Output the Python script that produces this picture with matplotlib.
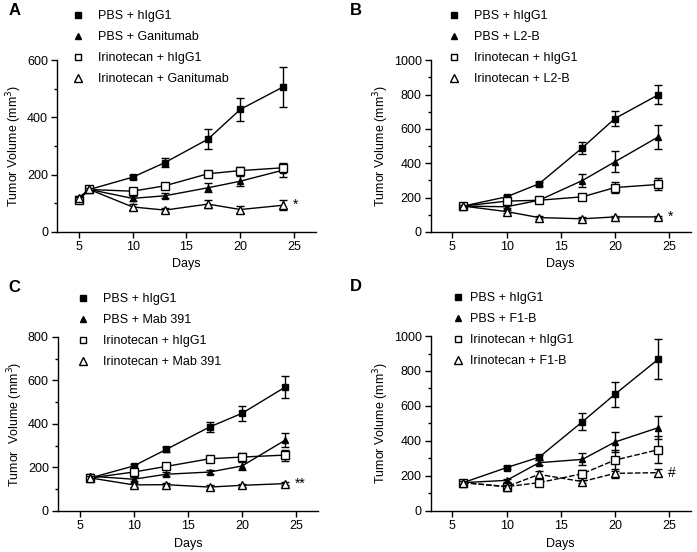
import numpy as np
import matplotlib
matplotlib.use('Agg')
import matplotlib.pyplot as plt
from matplotlib.lines import Line2D
from matplotlib.ticker import MultipleLocator

plt.rcParams['font.family'] = ['Liberation Sans', 'DejaVu Sans']
plt.rcParams['font.size'] = 9

# panel A
days_a = [5, 6, 10, 13, 17, 20, 24]
a_pbs_igg = [113, 148, 191, 242, 324, 428, 507]
a_pbs_igg_err = [5, 5, 8, 15, 35, 40, 70]
a_pbs_drug = [120, 148, 117, 126, 154, 177, 216]
a_pbs_drug_err = [5, 5, 8, 8, 15, 18, 25]
a_iri_igg = [113, 148, 142, 161, 203, 214, 224]
a_iri_igg_err = [5, 5, 8, 8, 10, 12, 12]
a_iri_drug = [118, 148, 87, 76, 97, 78, 93]
a_iri_drug_err = [5, 5, 10, 8, 15, 12, 18]
labels_a = ['PBS + hIgG1', 'PBS + Ganitumab', 'Irinotecan + hIgG1', 'Irinotecan + Ganitumab']

# panel B
days_b = [6, 10, 13, 17, 20, 24]
b_pbs_igg = [150, 204, 280, 490, 660, 798]
b_pbs_igg_err = [8, 10, 12, 35, 45, 55]
b_pbs_drug = [150, 146, 184, 299, 408, 553]
b_pbs_drug_err = [8, 10, 12, 38, 60, 72]
b_iri_igg = [150, 179, 184, 204, 258, 276]
b_iri_igg_err = [8, 10, 10, 15, 30, 35]
b_iri_drug = [150, 118, 83, 76, 87, 87]
b_iri_drug_err = [8, 10, 8, 8, 8, 8]
labels_b = ['PBS + hIgG1', 'PBS + L2-B', 'Irinotecan + hIgG1', 'Irinotecan + L2-B']

# panel C
days_c = [6, 10, 13, 17, 20, 24]
c_pbs_igg = [152, 207, 283, 386, 449, 570]
c_pbs_igg_err = [8, 10, 12, 25, 35, 50]
c_pbs_drug = [160, 146, 169, 179, 207, 326]
c_pbs_drug_err = [8, 10, 10, 10, 20, 32]
c_iri_igg = [152, 179, 205, 240, 248, 257]
c_iri_igg_err = [8, 12, 12, 15, 20, 25]
c_iri_drug = [152, 120, 121, 110, 118, 126]
c_iri_drug_err = [8, 8, 8, 8, 8, 8]
labels_c = ['PBS + hIgG1', 'PBS + Mab 391', 'Irinotecan + hIgG1', 'Irinotecan + Mab 391']

# panel D
days_d = [6, 10, 13, 17, 20, 24]
d_pbs_igg = [162, 248, 307, 510, 667, 867]
d_pbs_igg_err = [8, 10, 15, 50, 70, 115]
d_pbs_drug = [162, 175, 276, 295, 394, 476]
d_pbs_drug_err = [8, 10, 15, 35, 55, 65]
d_iri_igg = [162, 139, 162, 213, 291, 350]
d_iri_igg_err = [8, 8, 10, 20, 60, 78]
d_iri_drug = [162, 139, 209, 168, 215, 219]
d_iri_drug_err = [8, 8, 20, 10, 25, 20]
labels_d = ['PBS + hIgG1', 'PBS + F1-B', 'Irinotecan + hIgG1', 'Irinotecan + F1-B']

styles = [
    dict(marker='s', mfc='black', ms=5),
    dict(marker='^', mfc='black', ms=5),
    dict(marker='s', mfc='white', ms=5.8),
    dict(marker='^', mfc='white', ms=6.3),
]

fig = plt.figure(figsize=(6.97, 5.52), dpi=100)

# letter, axes rect, days, series, labels, ymax, mark, dashed, legend anchor, textpad, ylabel
panels = [
    ('A', [0.082, 0.58, 0.371, 0.311], days_a,
     [(a_pbs_igg, a_pbs_igg_err), (a_pbs_drug, a_pbs_drug_err),
      (a_iri_igg, a_iri_igg_err), (a_iri_drug, a_iri_drug_err)],
     labels_a, 600, '*', False, (0.103, 0.982), 1.1, 'Tumor Volume (mm$^3$)'),
    ('B', [0.618, 0.58, 0.373, 0.311], days_b,
     [(b_pbs_igg, b_pbs_igg_err), (b_pbs_drug, b_pbs_drug_err),
      (b_iri_igg, b_iri_igg_err), (b_iri_drug, b_iri_drug_err)],
     labels_b, 1000, '*', False, (0.6424, 0.982), 1.1, 'Tumor Volume (mm$^3$)'),
    ('C', [0.083, 0.0743, 0.373, 0.3152], days_c,
     [(c_pbs_igg, c_pbs_igg_err), (c_pbs_drug, c_pbs_drug_err),
      (c_iri_igg, c_iri_igg_err), (c_iri_drug, c_iri_drug_err)],
     labels_c, 800, '**', False, (0.110, 0.469), 1.1, 'Tumor  Volume (mm$^3$)'),
    ('D', [0.618, 0.0743, 0.373, 0.317], days_d,
     [(d_pbs_igg, d_pbs_igg_err), (d_pbs_drug, d_pbs_drug_err),
      (d_iri_igg, d_iri_igg_err), (d_iri_drug, d_iri_drug_err)],
     labels_d, 1000, '#', True, (0.648, 0.471), 0.5, 'Tumor Volume (mm$^3$)'),
]

for letter, pos, days, series, labels, ymax, mark, dashed, legpos, tpad, ylab in panels:
    ax = fig.add_axes(pos)
    for i, (vals, errs) in enumerate(series):
        ls = '-'
        if dashed and i >= 2:
            ls = (0, (4, 1.5))
        ax.errorbar(days, vals, yerr=errs, color='black', lw=1.0, ls=ls,
                    mec='black', mew=1.0, capsize=2.8, elinewidth=1.0,
                    capthick=1.0, zorder=3 + i, **styles[i])
    ax.text(24.9, series[3][0][-1], mark, fontsize=10, va='center', ha='left')
    ax.set_xlim(3, 27)
    ax.set_ylim(0, ymax)
    ax.set_xticks([5, 10, 15, 20, 25])
    ax.yaxis.set_major_locator(MultipleLocator(200))
    ax.yaxis.set_minor_locator(MultipleLocator(100))
    ax.spines['top'].set_visible(False)
    ax.spines['right'].set_visible(False)
    for s in ('left', 'bottom'):
        ax.spines[s].set_linewidth(1.0)
    ax.tick_params(which='major', length=4, width=1.0, labelsize=9, pad=2.5)
    ax.tick_params(which='minor', length=2.5, width=1.0)
    ax.tick_params(axis='x', which='minor', length=0)
    ax.set_xlabel('Days', fontsize=9, labelpad=4)
    ax.set_ylabel(ylab, fontsize=9, labelpad=2)

    handles = [Line2D([], [], color='black', ls='none', mec='black', mew=1.0,
                      marker=st['marker'], mfc=st['mfc'], ms=st['ms'] * 0.85)
               for st in styles]
    fig.legend(handles, labels, loc='upper left', bbox_to_anchor=legpos,
               frameon=False, fontsize=9, handlelength=1.0,
               handletextpad=tpad, labelspacing=0.72, borderpad=0, borderaxespad=0)
    lx = 0.012 if letter in 'AC' else 0.502
    fig.text(lx, pos[1] + pos[3] + 0.09, letter, fontsize=12, fontweight='bold', va='center')

fig.savefig('out.png', dpi=100)
